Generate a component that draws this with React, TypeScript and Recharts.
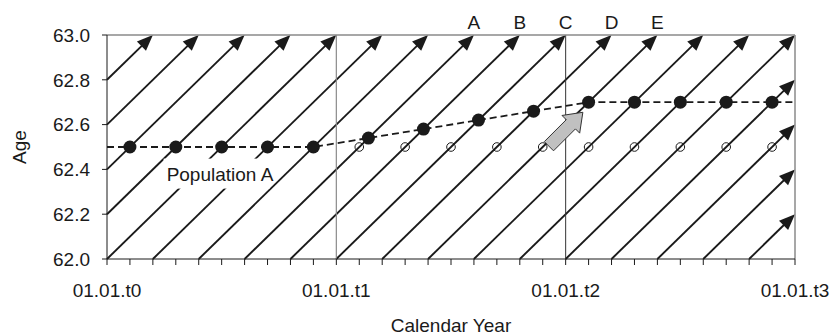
import React from 'react';
import {
  ComposedChart,
  Line,
  Scatter,
  XAxis,
  YAxis,
  ReferenceLine,
  ReferenceDot,
} from 'recharts';

document.body.style.margin = '0';

const FONT = '"Liberation Sans", Arial, sans-serif';
const INK = '#1a1a1a';

// calendar axis: ticks every 0.1 year, labelled on 1 January
const xTicks = [
  0, 0.1, 0.2, 0.3, 0.4, 0.5, 0.6, 0.7, 0.8, 0.9,
  1, 1.1, 1.2, 1.3, 1.4, 1.5, 1.6, 1.7, 1.8, 1.9,
  2, 2.1, 2.2, 2.3, 2.4, 2.5, 2.6, 2.7, 2.8, 2.9, 3,
];
const xLabels = ['01.01.t0', '01.01.t1', '01.01.t2', '01.01.t3'];
const yTicks = [62.0, 62.2, 62.4, 62.6, 62.8, 63.0];

// cohort life lines: calendar time at which each cohort turns 62.0
const cohortStart = [
  -0.8, -0.6, -0.4, -0.2, 0, 0.2, 0.4, 0.6, 0.8, 1, 1.2, 1.4, 1.6, 1.8,
  2, 2.2, 2.4, 2.6, 2.8,
];

// Population A: retirement age path (filled dots)
const popX = [0, 0.1, 0.3, 0.5, 0.7, 0.9, 1.14, 1.38, 1.62, 1.86, 2.1, 2.3, 2.5, 2.7, 2.9, 3];
const popAge = [62.5, 62.5, 62.5, 62.5, 62.5, 62.5, 62.54, 62.58, 62.62, 62.66, 62.7, 62.7, 62.7, 62.7, 62.7, 62.7];
const popMarked = [false, true, true, true, true, true, true, true, true, true, true, true, true, true, true, false];

// old retirement age (open circles)
const openX = [1.1, 1.3, 1.5, 1.7, 1.9, 2.1, 2.3, 2.5, 2.7, 2.9];
const openAge = [62.5, 62.5, 62.5, 62.5, 62.5, 62.5, 62.5, 62.5, 62.5, 62.5];

// letters above the top edge
const letterNames = ['A', 'B', 'C', 'D', 'E'];
const letterX = [1.6, 1.8, 2.0, 2.2, 2.4];

const popLabel = { x: 0.26, age: 62.35, text: 'Population A' };
const pointerTip = { x: 2.075, age: 62.655 };

const popData = popX.map((x, i) => ({ x, age: popAge[i], marked: popMarked[i] }));
const openData = openX.map((x, i) => ({ x, age: openAge[i] }));

const r2 = (v: number) => Math.round(v * 100) / 100;
const segments = cohortStart.map((s) => {
  const x1 = Math.max(s, 0);
  const x2 = Math.min(s + 1, 3);
  return [
    { x: r2(x1), y: r2(62 + x1 - s) },
    { x: r2(x2), y: r2(62 + x2 - s) },
  ];
});

const ArrowLine = (p: any) => {
  const { x1, y1, x2, y2 } = p;
  const dx = x2 - x1;
  const dy = y2 - y1;
  const len = Math.hypot(dx, dy) || 1;
  const ux = dx / len;
  const uy = dy / len;
  const L = 16;
  const W = 6.5;
  const bx = x2 - ux * L;
  const by = y2 - uy * L;
  const pts = `${x2},${y2} ${bx - uy * W},${by + ux * W} ${bx + uy * W},${by - ux * W}`;
  return (
    <g>
      <line x1={x1} y1={y1} x2={bx + ux * 3} y2={by + uy * 3} stroke={INK} strokeWidth={1.9} />
      <polygon points={pts} fill={INK} />
    </g>
  );
};

const PopDot = (p: any) => {
  if (!p.payload || !p.payload.marked) return <g key={p.index} />;
  return <circle key={p.index} cx={p.cx} cy={p.cy} r={6.5} fill={INK} />;
};

const OpenDot = (p: any) => (
  <circle cx={p.cx} cy={p.cy} r={4.3} fill="none" stroke={INK} strokeWidth={1} />
);

const LetterShape = (name: string) => (p: any) => (
  <text x={p.cx} y={p.cy - 6} textAnchor="middle" fontSize={19} fontFamily={FONT} fill={INK}>
    {name}
  </text>
);

const PopLabelShape = (p: any) => (
  <g>
    <rect x={p.cx - 3} y={p.cy - 22} width={106} height={30} fill="#fff" />
    <text x={p.cx} y={p.cy} fontSize={19} fontFamily={FONT} fill={INK}>
      {popLabel.text}
    </text>
  </g>
);

const PointerShape = (p: any) => {
  const tx = p.cx;
  const ty = p.cy;
  const ux = Math.SQRT1_2;
  const uy = -Math.SQRT1_2;
  const nx = Math.SQRT1_2;
  const ny = Math.SQRT1_2;
  const H = 17;
  const HW = 12.5;
  const SW = 6.5;
  const T = 48;
  const bx = tx - ux * H;
  const by = ty - uy * H;
  const ex = tx - ux * T;
  const ey = ty - uy * T;
  const pts = [
    [tx, ty],
    [bx + nx * HW, by + ny * HW],
    [bx + nx * SW, by + ny * SW],
    [ex + nx * SW, ey + ny * SW],
    [ex - nx * SW, ey - ny * SW],
    [bx - nx * SW, by - ny * SW],
    [bx - nx * HW, by - ny * HW],
  ]
    .map((q) => q.join(','))
    .join(' ');
  return <polygon points={pts} fill="#c0c0c0" stroke="#333" strokeWidth={1} />;
};

const xFmt = (v: number) => {
  const k = Math.round(v);
  return Math.abs(v - k) < 1e-6 ? xLabels[k] : '';
};

export default function App() {
  return (
    <div style={{ width: 833, height: 335, fontFamily: FONT }}>
      <ComposedChart width={833} height={335} margin={{ top: 35, right: 38, bottom: 0, left: 0 }}>
        <XAxis
          dataKey="x"
          type="number"
          domain={[0, 3]}
          ticks={xTicks}
          interval={0}
          tickFormatter={xFmt}
          tickSize={6}
          tickMargin={19}
          height={76}
          stroke={INK}
          tick={{ fontSize: 19, fill: INK, fontFamily: FONT }}
          label={{
            value: 'Calendar Year',
            position: 'insideBottom',
            offset: 3,
            fontSize: 19,
            fill: INK,
            fontFamily: FONT,
          }}
        />
        <YAxis
          type="number"
          domain={[62, 63]}
          ticks={yTicks}
          interval={0}
          tickFormatter={(v: number) => v.toFixed(1)}
          tickSize={5}
          tickMargin={12}
          width={107}
          stroke={INK}
          tick={{ fontSize: 19, fill: INK, fontFamily: FONT }}
          label={{
            value: 'Age',
            angle: -90,
            position: 'insideLeft',
            offset: 19,
            fontSize: 19,
            fill: INK,
            fontFamily: FONT,
            style: { textAnchor: 'middle' },
          }}
        />

        {segments.map((seg, i) => (
          <ReferenceLine key={`c${i}`} segment={seg} ifOverflow="visible" shape={ArrowLine} zIndex={100} />
        ))}

        <ReferenceLine x={1} stroke="#8a8a8a" strokeWidth={1.2} zIndex={150} />
        <ReferenceLine x={2} stroke="#333" strokeWidth={1} zIndex={150} />
        <ReferenceLine y={63} stroke="#8a8a8a" strokeWidth={1.5} zIndex={150} />
        <ReferenceLine x={3} stroke="#8a8a8a" strokeWidth={1.5} zIndex={150} />

        <ReferenceDot x={popLabel.x} y={popLabel.age} r={1} shape={PopLabelShape} zIndex={200} />

        <Line
          data={popData}
          dataKey="age"
          type="linear"
          stroke={INK}
          strokeWidth={1.8}
          strokeDasharray="7 4"
          dot={PopDot}
          activeDot={false}
          isAnimationActive={false}
          zIndex={300}
        />
        <Scatter data={openData} dataKey="age" shape={OpenDot} isAnimationActive={false} zIndex={350} />

        <ReferenceDot x={pointerTip.x} y={pointerTip.age} r={1} shape={PointerShape} zIndex={500} />

        {letterNames.map((n, i) => (
          <ReferenceDot key={n} x={letterX[i]} y={63} r={1} shape={LetterShape(n)} zIndex={500} />
        ))}
      </ComposedChart>
    </div>
  );
}
